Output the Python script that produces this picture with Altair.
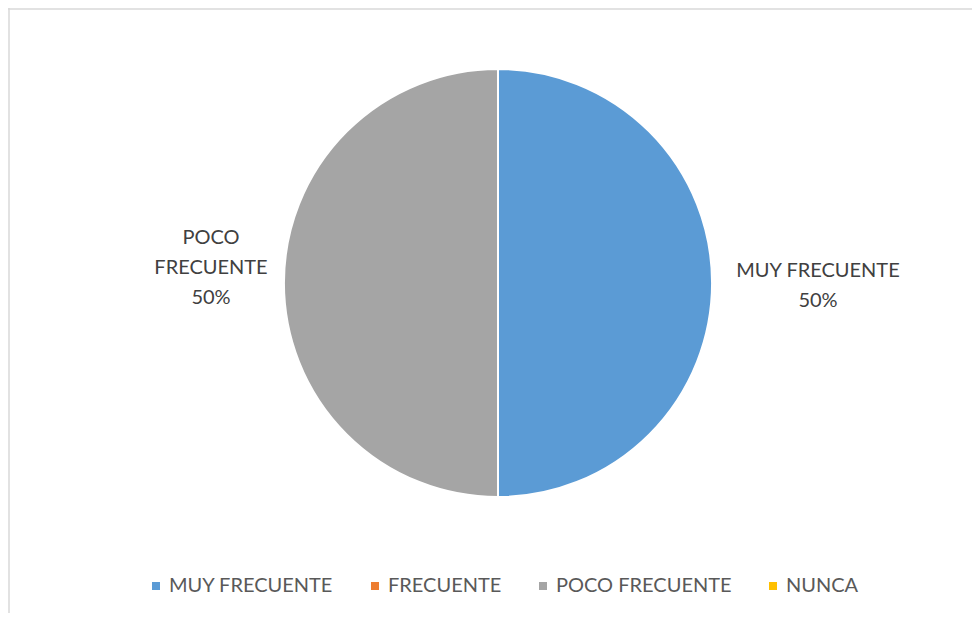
import altair as alt
import pandas as pd

categories = ["MUY FRECUENTE", "FRECUENTE", "POCO FRECUENTE", "NUNCA"]
values = [50, 0, 50, 0]
labels = ["MUY FRECUENTE\n50%", "", "POCO\nFRECUENTE\n50%", ""]
colors = ["#5B9BD5", "#ED7D31", "#A5A5A5", "#FFC000"]

df = pd.DataFrame({"cat": categories, "value": values, "label": labels, "idx": list(range(len(categories)))})

FONT = "Lato"
FS = 20

base = alt.Chart(df).encode(
    theta=alt.Theta("value:Q", stack=True),
    order=alt.Order("idx:Q"),
)

color = alt.Color(
    "cat:N",
    scale=alt.Scale(domain=categories, range=colors),
    sort=categories,
    legend=alt.Legend(
        orient="none", legendX=122, legendY=568, direction="horizontal",
        title=None, symbolType="square", symbolSize=64, symbolStrokeWidth=0,
        labelFontSize=FS, labelFont=FONT, labelColor="#595959", labelLimit=0,
        columnPadding=31, labelOffset=3, padding=0,
    ),
)

pie = base.mark_arc(outerRadius=214, stroke="white", strokeWidth=2).encode(color=color)

txt_right = base.mark_text(radius=320, dy=-12, fontSize=FS, font=FONT, color="#404040",
                           lineBreak="\n", lineHeight=30).encode(
    text=alt.condition("datum.cat === 'MUY FRECUENTE'", alt.Text("label:N"), alt.value(""))
)
txt_left = base.mark_text(radius=287, dy=-45, fontSize=FS, font=FONT, color="#404040",
                          lineBreak="\n", lineHeight=30).encode(
    text=alt.condition("datum.cat === 'POCO FRECUENTE'", alt.Text("label:N"), alt.value(""))
)

border_df = pd.DataFrame({"k": [0]})
top_line = alt.Chart(border_df).mark_rule(color="#D9D9D9", strokeWidth=1.5).encode(
    x=alt.value(-16), x2=alt.value(960), y=alt.value(1)
)
left_line = alt.Chart(border_df).mark_rule(color="#D9D9D9", strokeWidth=1.5).encode(
    x=alt.value(-15), y=alt.value(0), y2=alt.value(605)
)

chart = alt.layer(top_line, left_line, pie, txt_right, txt_left).properties(
    width=948, height=550,
    autosize=alt.AutoSizeParams(type="none"),
    padding={"left": 16, "top": 0, "right": 0, "bottom": 55},
).configure_view(stroke=None)

chart.save("out.html", embed_options={"renderer": "svg", "actions": False})
